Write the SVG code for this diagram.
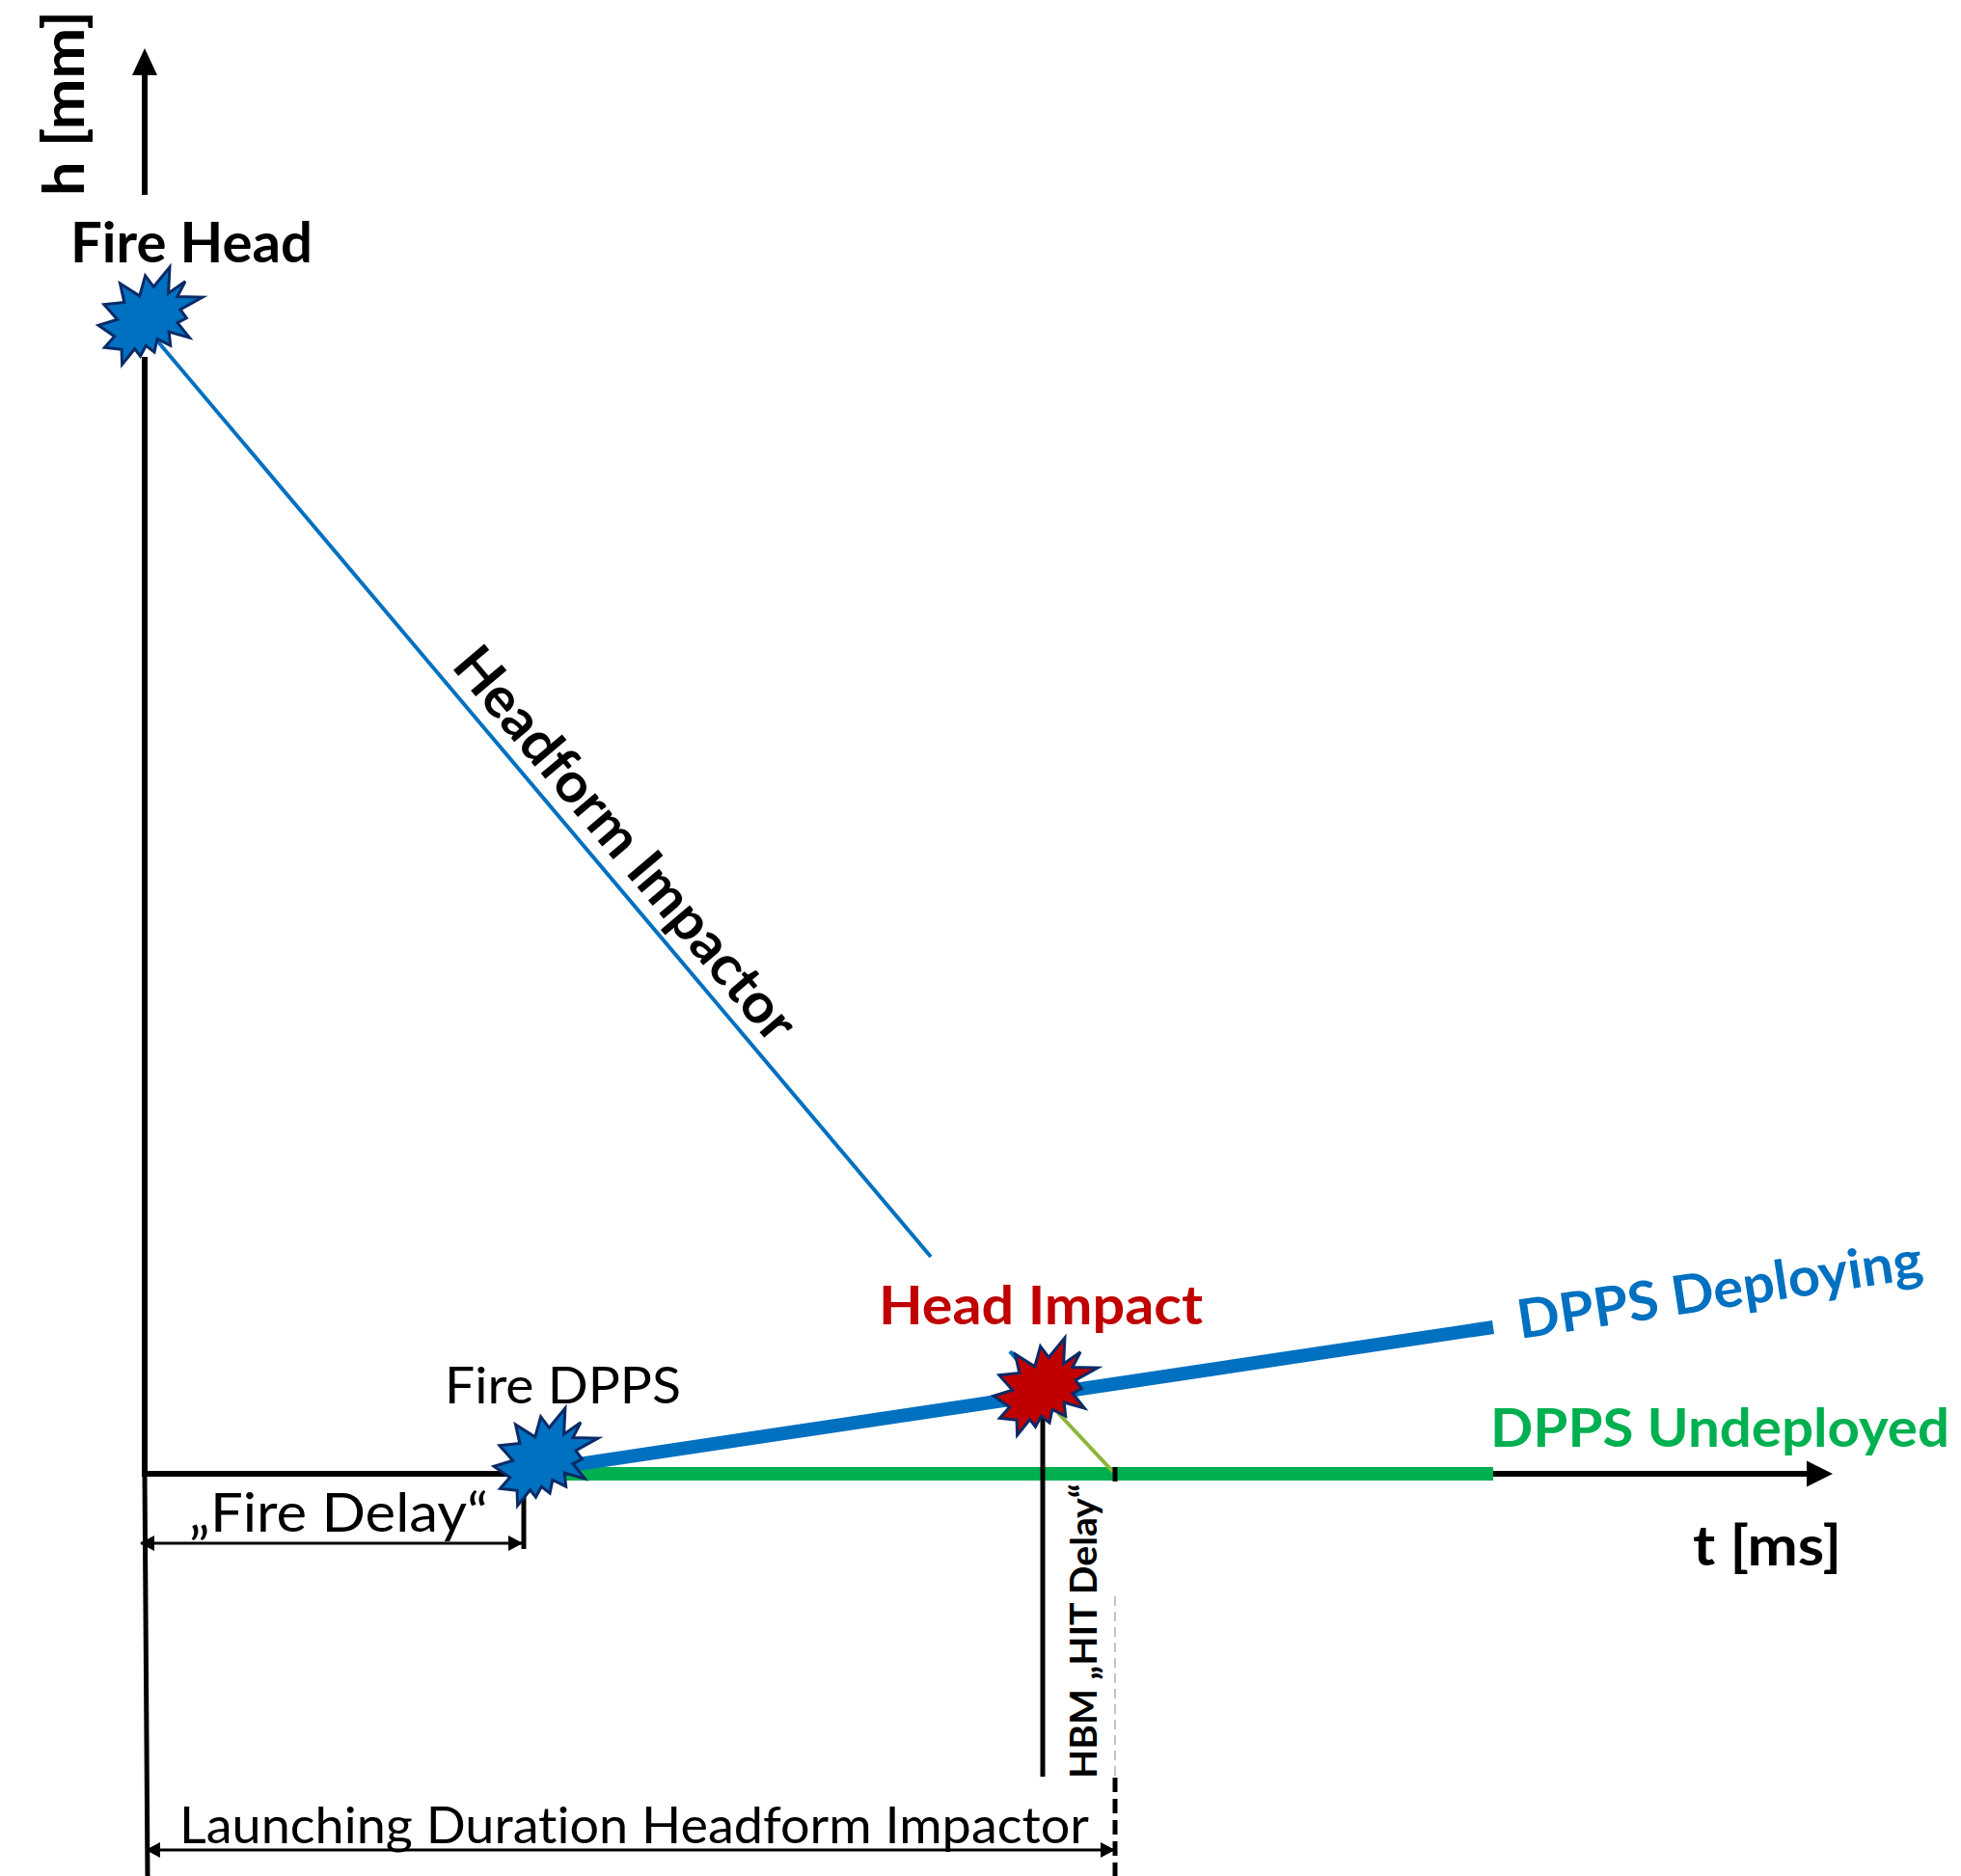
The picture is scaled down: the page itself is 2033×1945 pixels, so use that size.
<svg xmlns="http://www.w3.org/2000/svg" width="2033" height="1945" viewBox="0 0 2033 1945">
<style>
text{font-variant-ligatures:none;font-feature-settings:"liga" 0,"clig" 0}
.b{font-family:Lato,"Open Sans","Liberation Sans",sans-serif;font-weight:700}
.r{font-family:Lato,"Open Sans","Liberation Sans",sans-serif;font-weight:400}
.ax{stroke:#000;stroke-width:6;fill:none}
.dim{stroke:#000;stroke-width:3;fill:none}
.star{stroke:#0B2A66;stroke-width:3;stroke-linejoin:miter}
</style>
<defs>
<path id="star" d="M57.31,20.30 L73.95,0 L72.63,27.01 L90.04,14.83 L81.90,30.54 L108,31.07 L84.93,43.96 L91.35,52.79 L81.90,57.56 L94.39,73.10 L73.20,67.10 L74.71,81.22 L60.90,74.51 L58.06,88.10 L49.36,81.22 L43.50,92.17 L37.64,84.75 L24.59,101 L24.03,85.29 L6.43,83.35 L16.65,71.87 L0,60.21 L19.68,54.20 L5.86,38.67 L26.86,36.55 L22.51,16.95 L42.75,29.84 L48.61,8.82 Z"/>
<marker id="dimArrow" markerUnits="userSpaceOnUse" markerWidth="15" markerHeight="16" refX="14" refY="8" orient="auto-start-reverse"><path d="M0,0 L15,8 L0,16 Z" fill="#000"/></marker>
</defs>
<rect width="2033" height="1945" fill="#fff"/>

<g id="connectors">
  <!-- y axis -->
  <line class="ax" x1="150" y1="202" x2="150" y2="74"/>
  <polygon points="150,50 137,78 163,78" fill="#000"/>
  <line class="ax" x1="150" y1="370" x2="150" y2="1528"/>
  <line x1="150" y1="1528" x2="153" y2="1945" stroke="#000" stroke-width="5"/>
  <!-- headform impactor line -->
  <line x1="150" y1="338" x2="965" y2="1303" stroke="#0070C0" stroke-width="4"/>
  <line x1="1047" y1="1401" x2="1080" y2="1441" stroke="#0070C0" stroke-width="4"/>
  <!-- x axis -->
  <line class="ax" x1="147" y1="1528" x2="1876" y2="1528"/>
  <polygon points="1900,1528 1873,1514.5 1873,1541.5" fill="#000"/>
  <!-- DPPS undeployed -->
  <line x1="570" y1="1528" x2="1548" y2="1528" stroke="#00B050" stroke-width="14"/>
  <!-- DPPS deploying -->
  <line x1="570" y1="1522.4" x2="1548" y2="1376" stroke="#0070C0" stroke-width="14"/>
  <!-- fire delay dimension -->
  <line x1="543" y1="1526" x2="543" y2="1606" stroke="#000" stroke-width="5"/>
  <line class="dim" x1="146" y1="1600" x2="541" y2="1600" marker-start="url(#dimArrow)" marker-end="url(#dimArrow)"/>
  <!-- HBM line -->
  <line x1="1081" y1="1470" x2="1081" y2="1842" stroke="#000" stroke-width="5"/>
  <!-- HIT delay -->
  <line x1="1097" y1="1465" x2="1154" y2="1526" stroke="#8DB53A" stroke-width="4"/>
  <rect x="1153.5" y="1521" width="5" height="15" fill="#000"/>
  <line x1="1156" y1="1655" x2="1156" y2="1842" stroke="#b0b0b0" stroke-width="1.5" stroke-dasharray="10,6"/>
  <line x1="1156" y1="1843" x2="1156" y2="1945" stroke="#000" stroke-width="5" stroke-dasharray="15,7"/>
  <!-- launching duration dimension -->
  <line class="dim" x1="152" y1="1918" x2="1155" y2="1918" marker-start="url(#dimArrow)" marker-end="url(#dimArrow)"/>
</g>

<g id="axis-labels">
  <text class="b" font-size="59" transform="translate(87,203) rotate(-90)" textLength="192" lengthAdjust="spacingAndGlyphs">h [mm]</text>
  <text class="b" font-size="58" x="1755" y="1623" textLength="154" lengthAdjust="spacingAndGlyphs">t [ms]</text>
</g>

<g id="fire-head">
  <use href="#star" x="102" y="277" fill="#0070C0" class="star"/>
  <text class="b" font-size="58" x="73" y="272" textLength="251" lengthAdjust="spacingAndGlyphs">Fire Head</text>
</g>

<g id="headform-impactor">
  <text class="b" font-size="58" transform="translate(467,691) rotate(49.8)" textLength="515" lengthAdjust="spacingAndGlyphs">Headform Impactor</text>
</g>

<g id="fire-dpps">
  <use href="#star" x="512" y="1460" fill="#0070C0" class="star"/>
  <text class="r" font-size="53" x="461" y="1455" textLength="245" lengthAdjust="spacingAndGlyphs">Fire DPPS</text>
</g>

<g id="head-impact">
  <use href="#star" x="1030" y="1387" fill="#C00000" class="star"/>
  <text class="b" font-size="56" x="911" y="1373" fill="#C00000" textLength="336" lengthAdjust="spacingAndGlyphs">Head Impact</text>
</g>

<g id="dpps-deploying">
  <text class="b" font-size="56" fill="#0070C0" transform="translate(1576,1388) rotate(-8.6)" textLength="424" lengthAdjust="spacingAndGlyphs">DPPS Deploying</text>
</g>

<g id="dpps-undeployed">
  <text class="b" font-size="55" fill="#00B050" x="1545" y="1500" textLength="476" lengthAdjust="spacingAndGlyphs">DPPS Undeployed</text>
</g>

<g id="fire-delay">
  <text class="r" font-size="56" x="196" y="1588" textLength="310" lengthAdjust="spacingAndGlyphs">„Fire Delay“</text>
</g>

<g id="hit-delay">
  <text class="b" font-size="38" transform="translate(1137,1844) rotate(-90)" textLength="306" lengthAdjust="spacingAndGlyphs">HBM „HIT Delay“</text>
</g>

<g id="launching-duration">
  <text class="r" font-size="52" x="186" y="1911" textLength="943" lengthAdjust="spacingAndGlyphs">Launching Duration Headform Impactor</text>
</g>
</svg>
